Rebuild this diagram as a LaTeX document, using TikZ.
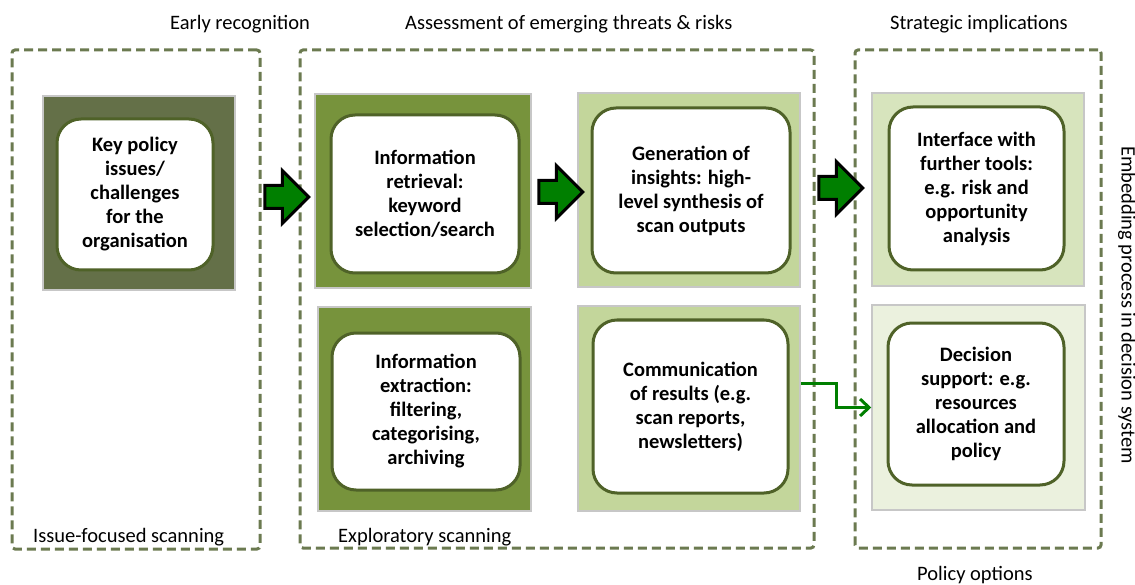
\documentclass[tikz,border=0pt]{standalone}
\usepackage{fontspec}
\setmainfont{Carlito}
\usetikzlibrary{shapes.arrows,arrows.meta}

\definecolor{framegreen}{HTML}{6B7A50}
\definecolor{olivegrey}{HTML}{647048}
\definecolor{olive}{HTML}{77933C}
\definecolor{sage}{HTML}{C3D69B}
\definecolor{palesage}{HTML}{D7E4BD}
\definecolor{mist}{HTML}{EBF1DE}
\definecolor{rimgreen}{HTML}{4F6228}
\definecolor{arrowgreen}{HTML}{007F00}

\begin{document}
\begin{tikzpicture}[x=1pt,y=-1pt,
  scanframe/.style={draw=framegreen,line width=3pt,dash pattern=on 9pt off 5pt,rounded corners=3pt},
  outerbox/.style={fill=#1,draw=black!22,line width=1.5pt,inner sep=0pt},
  innerbox/.style={fill=white,draw=rimgreen,line width=3pt,rounded corners=24pt,
    align=center,inner sep=0pt,font=\fontsize{20.5}{24}\selectfont\bfseries},
  heading/.style={inner sep=0pt,font=\fontsize{20.5}{24}\selectfont},
  bigarrow/.style={single arrow,fill=arrowgreen,draw=black,line width=3pt,
    inner sep=10pt,single arrow head extend=15pt,minimum height=44pt},
  link/.style={draw=arrowgreen,line width=3pt,-{Straight Barb[length=9pt,width=17pt]}}
]
  \useasboundingbox (0,0) rectangle (1135,585);

  %% FRAMES
  \node[scanframe,minimum width=248pt,minimum height=499pt] (early) at (136,299.5) {};
  \node[scanframe,minimum width=514pt,minimum height=498pt] (assess) at (557,299) {};
  \node[scanframe,minimum width=246pt,minimum height=498pt] (strat) at (978,299) {};

  % headings
  \node[heading,anchor=west] (h1) at (170,24) {Early recognition};
  \node[heading,anchor=west] (h2) at (405,24) {Assessment of emerging threats \& risks};
  \node[heading,anchor=west] (h3) at (890,24) {Strategic implications};
  \node[heading,anchor=west] (f1) at (33,537) {Issue-focused scanning};
  \node[heading,anchor=west] (f2) at (338,537) {Exploratory scanning};
  \node[heading,anchor=west] (f3) at (917,575) {Policy options};
  \node[heading,rotate=-90] (embed) at (1127,305) {Embedding process in decision system};

  %% BOXES
  % key issues
  \node[outerbox=olivegrey,minimum width=192pt,minimum height=194pt] (keyb) at (139,193) {};
  \node[innerbox,minimum width=156pt,minimum height=151pt] (key) at (135,194.5)
    {Key policy\\issues/\\challenges\\for the\\organisation};

  % retrieval
  \node[outerbox=olive,minimum width=216pt,minimum height=194pt] (retrb) at (423,191) {};
  \node[innerbox,minimum width=188pt,minimum height=158pt] (retr) at (425,194)
    {Information\\retrieval:\\keyword\\selection/search};

  % extraction
  \node[outerbox=olive,minimum width=213pt,minimum height=204pt] (extrb) at (424.5,409) {};
  \node[innerbox,minimum width=188pt,minimum height=157pt] (extr) at (426,411.5)
    {Information\\extraction:\\filtering,\\categorising,\\archiving};

  % insights
  \node[outerbox=sage,minimum width=222pt,minimum height=194pt] (genb) at (689,190) {};
  \node[innerbox,minimum width=198pt,minimum height=165pt] (gen) at (691,190.5)
    {Generation of\\insights: high-\\level synthesis of\\scan outputs};

  % communication
  \node[outerbox=sage,minimum width=222pt,minimum height=205pt] (commb) at (689,408.5) {};
  \node[innerbox,minimum width=195pt,minimum height=173pt] (comm) at (690.5,406.5)
    {Communication\\of results (e.g.\\scan reports,\\newsletters)};

  % interface
  \node[outerbox=palesage,minimum width=212pt,minimum height=193pt] (intfb) at (978,189.5) {};
  \node[innerbox,minimum width=175pt,minimum height=163pt] (intf) at (976.5,188.5)
    {Interface with\\further tools:\\e.g. risk and\\opportunity\\analysis};

  % decision
  \node[outerbox=mist,minimum width=213pt,minimum height=205pt] (decb) at (978.5,407.5) {};
  \node[innerbox,minimum width=176pt,minimum height=162pt] (dec) at (976,404)
    {Decision\\support: e.g.\\resources\\allocation and\\policy};

  %% ARROWS
  \node[bigarrow] (a1) at (281,197) {};
  \node[bigarrow] (a2) at (555,192) {};
  \node[bigarrow] (a3) at (835,188) {};

  \coordinate (bend) at (836,383);
  \draw[link] (commb.east |- bend) -- (bend) |- (decb.west);
\end{tikzpicture}
\end{document}
